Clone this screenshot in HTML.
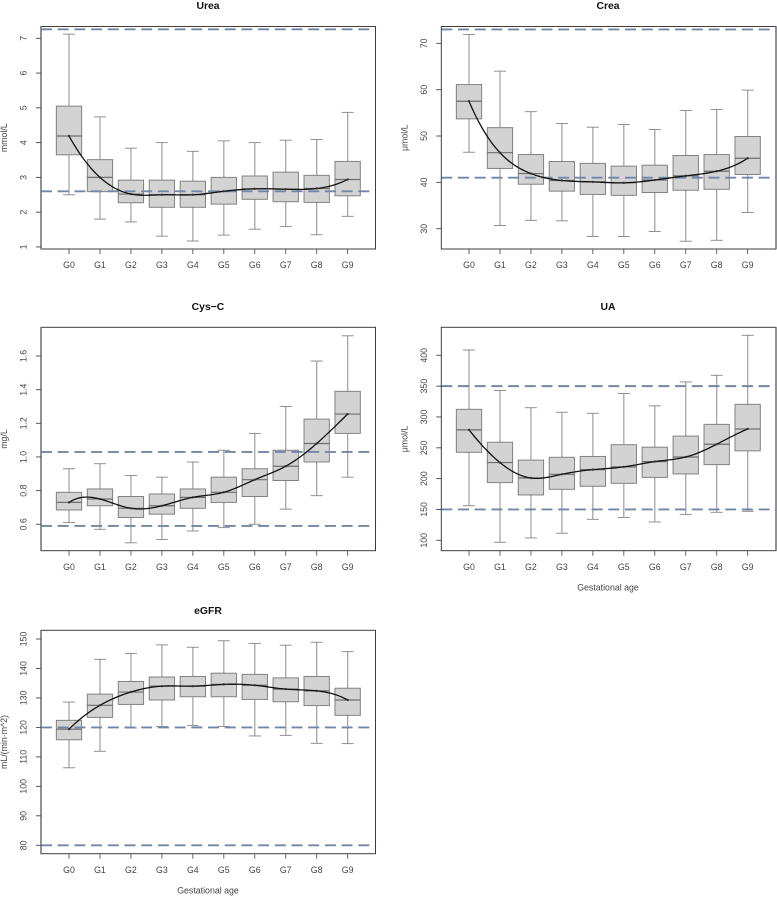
<!DOCTYPE html>
<html lang="en">
<head>
<meta charset="utf-8">
<title>Renal markers by gestational age</title>
<style>
html,body{margin:0;padding:0;background:#fff;}
body{width:777px;height:897px;overflow:hidden;}
svg{display:block;filter:blur(0.3px);}
text{font-family:"Liberation Sans",sans-serif;}
</style>
</head>
<body>
<svg id="chart" width="777" height="897" viewBox="0 0 777 897" xmlns="http://www.w3.org/2000/svg"></svg>
<script>
const categories = ['G0','G1','G2','G3','G4','G5','G6','G7','G8','G9'];

const ureaLow = [2.5,1.8,1.72,1.31,1.17,1.34,1.51,1.59,1.35,1.88];
const ureaQ1 = [3.65,2.59,2.27,2.14,2.14,2.23,2.37,2.3,2.28,2.47];
const ureaMedian = [4.19,3.0,2.52,2.5,2.5,2.6,2.67,2.66,2.68,2.94];
const ureaQ3 = [5.05,3.51,2.92,2.92,2.89,3.0,3.04,3.15,3.06,3.46];
const ureaHigh = [7.12,4.74,3.84,4.0,3.75,4.05,4.0,4.07,4.09,4.87];
const ureaTicks = [1,2,3,4,5,6,7];
const ureaRefs = [7.26,2.6];

const creaLow = [46.5,30.7,31.8,31.7,28.3,28.3,29.4,27.3,27.5,33.5];
const creaQ1 = [53.7,43,39.6,38.1,37.4,37.2,37.8,38.3,38.5,41.7];
const creaMedian = [57.5,46.4,41.9,40.4,40.1,39.9,40.5,41.4,42.4,45.2];
const creaQ3 = [61.1,51.8,46,44.5,44.1,43.5,43.7,45.8,46,49.9];
const creaHigh = [71.9,64,55.25,52.7,51.9,52.5,51.4,55.5,55.7,59.9];
const creaTicks = [30,40,50,60,70];
const creaRefs = [73,41];

const cysLow = [0.61,0.57,0.49,0.51,0.56,0.58,0.6,0.69,0.77,0.88];
const cysQ1 = [0.685,0.71,0.64,0.66,0.695,0.73,0.765,0.86,0.97,1.14];
const cysMedian = [0.73,0.75,0.695,0.71,0.76,0.79,0.865,0.945,1.08,1.255];
const cysQ3 = [0.79,0.81,0.765,0.78,0.81,0.88,0.93,1.04,1.225,1.39];
const cysHigh = [0.93,0.96,0.89,0.88,0.97,1.04,1.14,1.3,1.57,1.72];
const cysTicks = [0.6,0.8,1.0,1.2,1.4,1.6];
const cysTickLabels = ['0.6','0.8','1.0','1.2','1.4','1.6'];
const cysRefs = [1.03,0.59];

const uaLow = [156,96.8,103.8,111.4,134,137,129.7,142,145.4,147];
const uaQ1 = [242.7,193.5,173.5,182.7,187.6,192.4,202,207.6,222.7,245];
const uaMedian = [279,226,201,207,214.6,219,227.6,235,255.7,280.5];
const uaQ3 = [312.4,259,230,234.6,236,255,251,269,288,320.5];
const uaHigh = [408.6,343,315,307.6,306,338,318,356.8,367.6,432.4];
const uaTicks = [100,150,200,250,300,350,400];
const uaRefs = [350,150];

const egfrLow = [106.3,111.9,119.8,120.3,120.6,120.3,117.1,117.3,114.6,114.5];
const egfrQ1 = [115.8,123.4,127.8,129.3,130.4,130.4,129.5,128.7,127.4,124.1];
const egfrMedian = [119.4,127.5,132,134,134,134.6,134.3,133,132.4,129.3];
const egfrQ3 = [122.4,131.3,135.6,137.1,137.3,138.4,138,136.8,137.3,133.3];
const egfrHigh = [128.6,143.1,145.1,148,147.2,149.4,148.5,147.9,148.9,145.7];
const egfrTicks = [80,90,100,110,120,130,140,150];
const egfrRefs = [120,80];

const svgNS = 'http://www.w3.org/2000/svg';
const root = document.getElementById('chart');

function mk(tag, attrs, parent) {
  const el = document.createElementNS(svgNS, tag);
  for (const k in attrs) el.setAttribute(k, attrs[k]);
  parent.appendChild(el);
  return el;
}

// Not-a-knot cubic spline through unit-spaced values.
function smoothSpline(ys) {
  const n = ys.length;
  const m = [];
  for (let i = 0; i < n; i++) m.push(new Array(n + 1).fill(0));
  m[0][0] = 1; m[0][1] = -2; m[0][2] = 1;
  m[n - 1][n - 3] = 1; m[n - 1][n - 2] = -2; m[n - 1][n - 1] = 1;
  for (let i = 1; i < n - 1; i++) {
    m[i][i - 1] = 1; m[i][i] = 4; m[i][i + 1] = 1;
    m[i][n] = 6 * (ys[i + 1] - 2 * ys[i] + ys[i - 1]);
  }
  for (let c = 0; c < n; c++) {
    let piv = c;
    for (let r = c + 1; r < n; r++) if (Math.abs(m[r][c]) > Math.abs(m[piv][c])) piv = r;
    const tmp = m[c]; m[c] = m[piv]; m[piv] = tmp;
    for (let r = c + 1; r < n; r++) {
      const f = m[r][c] / m[c][c];
      for (let k = c; k <= n; k++) m[r][k] -= f * m[c][k];
    }
  }
  const s = new Array(n).fill(0);
  for (let r = n - 1; r >= 0; r--) {
    let v = m[r][n];
    for (let k = r + 1; k < n; k++) v -= m[r][k] * s[k];
    s[r] = v / m[r][r];
  }
  return function (t) {
    const i = Math.min(Math.floor(t), n - 2);
    const u = t - i, v = 1 - u;
    return v * ys[i] + u * ys[i + 1] + ((v * v * v - v) * s[i] + (u * u * u - u) * s[i + 1]) / 6;
  };
}

function drawPanel(p) {
  const g = mk('g', {}, root);
  
  

  const x = function (i) { return p.x0 + i * 30.96; };
  const y = function (v) { return p.bottom - (v - p.domain[0]) / (p.domain[1] - p.domain[0]) * (p.bottom - p.top); };

  const title = mk('text', {x: p.cx, y: p.titleY, 'text-anchor': 'middle', 'font-size': '10.4', 'font-weight': 'bold', fill: '#111'}, g);
  
  
  title.textContent = p.title;

  const clipId = 'clip-' + p.key;
  const defs = mk('defs', {}, g);
  const clip = mk('clipPath', {id: clipId}, defs);
  mk('rect', {x: p.left, y: p.top, width: p.right - p.left, height: p.bottom - p.top}, clip);

  categories.forEach(function (cat, i) {
    const cap = 6, half = 12.67, cx = x(i);
    const box = mk('g', {}, g);
    
    
    mk('line', {x1: cx, x2: cx, y1: y(p.high[i]), y2: y(p.low[i]), stroke: '#a6a6a6', 'stroke-width': 1.3}, box);
    mk('line', {x1: cx - cap, x2: cx + cap, y1: y(p.high[i]), y2: y(p.high[i]), stroke: '#858585', 'stroke-width': 0.9}, box);
    mk('line', {x1: cx - cap, x2: cx + cap, y1: y(p.low[i]), y2: y(p.low[i]), stroke: '#858585', 'stroke-width': 0.9}, box);
    mk('rect', {x: cx - half, y: y(p.q3[i]), width: half * 2, height: y(p.q1[i]) - y(p.q3[i]), fill: '#d3d3d3', stroke: '#7d7d7d', 'stroke-width': 0.95}, box);
    mk('line', {x1: cx - half, x2: cx + half, y1: y(p.median[i]), y2: y(p.median[i]), stroke: '#6e6e6e', 'stroke-width': 1.2}, box);
  });

  p.refs.forEach(function (v, i) {
    const ref = mk('line', {x1: p.left, x2: p.right, y1: y(v), y2: y(v), stroke: '#7088a6', 'stroke-width': 1.9, 'stroke-dasharray': '11 5.7', 'clip-path': 'url(#' + clipId + ')'}, g);
    
    
  });

  const fn = smoothSpline(p.median);
  let d = '';
  for (let t = 0; t <= categories.length - 1 + 1e-9; t += 0.1) {
    d += (d ? 'L' : 'M') + x(t).toFixed(2) + ' ' + y(fn(t)).toFixed(2);
  }
  const curve = mk('path', {d: d, fill: 'none', stroke: '#111', 'stroke-width': 1.3}, g);
  
  

  p.median.forEach(function (v, i) {
    const pt = mk('circle', {cx: x(i), cy: y(v), r: 1.2, fill: '#333'}, g);
    
    
  });

  const frame = mk('rect', {x: p.left, y: p.top, width: p.right - p.left, height: p.bottom - p.top, fill: 'none', stroke: '#333', 'stroke-width': 0.95}, g);
  
  

  const sideX = p.left < 100 ? p.left : p.right;
  const side = mk('line', {x1: sideX, x2: sideX, y1: p.top, y2: p.bottom, stroke: '#777', 'stroke-width': 1.6}, g);
  
  

  categories.forEach(function (cat, i) {
    const tick = mk('line', {x1: x(i), x2: x(i), y1: p.bottom, y2: p.bottom + 5, stroke: '#555', 'stroke-width': 0.9}, g);
    
    
    const lab = mk('text', {x: x(i), y: p.bottom + 19.2, 'text-anchor': 'middle', 'font-size': '8.8', fill: '#444'}, g);
    
    
    lab.textContent = cat;
  });

  p.ticks.forEach(function (v, i) {
    const tick = mk('line', {x1: p.left - 5, x2: p.left, y1: y(v), y2: y(v), stroke: '#444', 'stroke-width': 0.9}, g);
    
    
    const tx = p.left - 14.5, ty = y(v);
    const lab = mk('text', {x: tx, y: ty, 'text-anchor': 'middle', 'font-size': '8.8', fill: '#444', transform: 'rotate(-90 ' + tx + ' ' + ty + ')'}, g);
    
    
    lab.textContent = p.tickLabels ? p.tickLabels[i] : String(v);
  });

  const yt = mk('text', {x: p.left - 34, y: (p.top + p.bottom) / 2, 'text-anchor': 'middle', 'font-size': '8.8', fill: '#444', transform: 'rotate(-90 ' + (p.left - 34) + ' ' + (p.top + p.bottom) / 2 + ')'}, g);
  
  
  yt.textContent = p.yTitle;

  if (p.xTitle) {
    const xt = mk('text', {x: p.cx, y: p.bottom + 40, 'text-anchor': 'middle', 'font-size': '8.8', fill: '#444'}, g);
    
    
    xt.textContent = p.xTitle;
  }
}

drawPanel({key: 'urea', title: 'Urea', yTitle: 'mmol/L', left: 41, right: 375.5, top: 26.5, bottom: 249, x0: 69, cx: 208, titleY: 8.8,
  domain: [0.94, 7.34], low: ureaLow, q1: ureaQ1, median: ureaMedian, q3: ureaQ3, high: ureaHigh, ticks: ureaTicks, refs: ureaRefs});
drawPanel({key: 'crea', title: 'Crea', yTitle: '\u03bcmol/L', left: 441.3, right: 776, top: 26.5, bottom: 249, x0: 469, cx: 608, titleY: 8.8,
  domain: [25.62, 73.63], low: creaLow, q1: creaQ1, median: creaMedian, q3: creaQ3, high: creaHigh, ticks: creaTicks, refs: creaRefs});
drawPanel({key: 'cys-c', title: 'Cys\u2212C', yTitle: 'mg/L', left: 41, right: 375.5, top: 327.3, bottom: 550.7, x0: 69, cx: 208, titleY: 310,
  domain: [0.443, 1.7705], low: cysLow, q1: cysQ1, median: cysMedian, q3: cysQ3, high: cysHigh, ticks: cysTicks, tickLabels: cysTickLabels, refs: cysRefs});
drawPanel({key: 'ua', title: 'UA', yTitle: '\u03bcmol/L', xTitle: 'Gestational age', left: 441.3, right: 776, top: 327.3, bottom: 550.7, x0: 469, cx: 608, titleY: 310,
  domain: [83.1, 445.4], low: uaLow, q1: uaQ1, median: uaMedian, q3: uaQ3, high: uaHigh, ticks: uaTicks, refs: uaRefs});
drawPanel({key: 'egfr', title: 'eGFR', yTitle: 'mL/(min\u00b7m^2)', xTitle: 'Gestational age', left: 41, right: 375.5, top: 630.3, bottom: 853.7, x0: 69, cx: 208, titleY: 613.8,
  domain: [77.15, 152.95], low: egfrLow, q1: egfrQ1, median: egfrMedian, q3: egfrQ3, high: egfrHigh, ticks: egfrTicks, refs: egfrRefs});
</script>
</body>
</html>
